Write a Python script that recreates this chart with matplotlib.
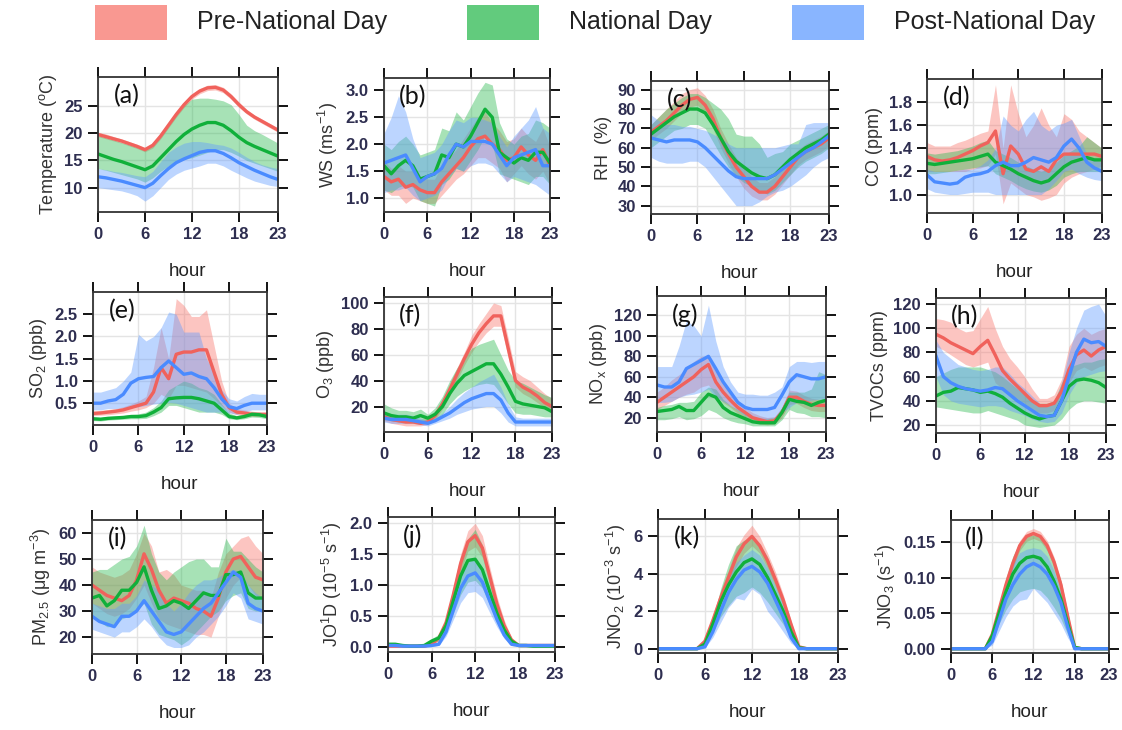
import matplotlib
matplotlib.use("Agg")
import matplotlib.pyplot as plt
from matplotlib.patches import Rectangle

plt.rcParams['font.family'] = ['Liberation Sans', 'DejaVu Sans']
plt.rcParams['mathtext.fontset'] = 'custom'
plt.rcParams['mathtext.rm'] = 'Liberation Sans'
plt.rcParams['mathtext.it'] = 'Liberation Sans:italic'

hours = list(range(24))
periods = ["Pre-National Day", "National Day", "Post-National Day"]
line_colors = ["#F0625C", "#10B03A", "#4A8BFF"]
band_colors = ["#F8766D", "#2DBA52", "#619CFF"]

# each block: [pre, national, post]
temp_mean = [[19.8,19.4,19.0,18.6,18.1,17.6,17.0,17.8,19.5,21.5,23.5,25.3,26.8,27.8,28.4,28.5,28.0,26.8,25.3,24.0,23.0,22.2,21.4,20.6],
             [16.2,15.7,15.2,14.8,14.3,13.8,13.3,14.0,15.5,17.0,18.5,19.8,20.8,21.5,22.0,22.0,21.5,20.5,19.3,18.3,17.6,17.0,16.4,15.8],
             [12.0,11.8,11.5,11.2,10.8,10.4,10.0,10.8,12.2,13.5,14.6,15.3,15.9,16.5,16.8,16.8,16.3,15.5,14.6,13.9,13.2,12.6,12.0,11.5]]
temp_lo = [[19.4,19.0,18.6,18.2,17.7,17.2,16.6,17.3,19.0,21.0,23.0,24.8,26.3,27.3,27.9,28.0,27.5,26.3,24.8,23.6,22.6,21.8,21.0,20.2],
           [13.5,13.2,12.8,12.4,12.0,11.6,11.0,11.8,13.0,14.0,14.8,15.2,15.5,16.0,16.5,17.0,17.0,16.5,15.8,15.0,14.5,14.0,13.5,13.0],
           [10.0,9.8,9.6,9.4,9.0,8.5,7.5,8.5,10.0,11.5,12.5,13.2,13.6,14.0,14.5,14.5,14.0,13.2,12.5,11.8,11.2,10.8,10.4,10.2]]
temp_hi = [[20.2,19.9,19.4,19.0,18.5,18.0,17.4,18.3,20.0,22.0,24.0,25.8,27.3,28.3,28.9,29.0,28.5,27.3,25.8,24.4,23.4,22.6,21.8,21.0],
           [19.6,19.2,18.8,18.3,17.9,17.4,17.0,17.8,19.5,21.5,23.5,25.2,26.3,26.5,26.5,26.3,26.0,25.3,23.5,21.5,20.5,19.8,19.0,18.2],
           [13.5,13.3,13.0,12.8,12.5,12.2,12.0,13.0,14.8,16.5,17.5,18.2,18.5,18.5,18.3,18.0,17.8,17.3,16.5,15.6,14.8,14.2,13.8,13.5]]

ws_mean = [[1.40,1.30,1.35,1.20,1.25,1.15,1.10,1.10,1.30,1.45,1.60,1.75,1.95,2.10,2.15,2.00,1.90,1.70,1.75,1.95,1.80,1.70,1.90,1.60],
           [1.60,1.45,1.60,1.70,1.60,1.35,1.40,1.45,1.80,1.75,2.00,1.95,2.15,2.40,2.65,2.50,1.85,1.75,1.65,1.75,1.70,1.85,1.85,1.65],
           [1.65,1.70,1.75,1.80,1.55,1.30,1.40,1.45,1.55,1.80,2.00,1.95,2.05,2.05,2.05,2.00,1.80,1.60,1.75,1.80,1.85,1.90,1.60,1.60]]
ws_lo = [[1.15,1.05,1.05,0.90,1.00,0.95,0.90,0.90,1.05,1.20,1.35,1.45,1.60,1.75,1.75,1.65,1.55,1.30,1.45,1.60,1.45,1.35,1.50,1.25],
         [1.15,1.10,1.20,1.25,1.20,0.95,0.90,0.85,1.25,1.35,1.55,1.50,1.70,1.90,2.15,2.00,1.45,1.40,1.35,1.30,1.25,1.40,1.40,1.25],
         [1.10,1.15,1.15,1.20,1.05,0.95,1.00,1.05,1.15,1.40,1.55,1.50,1.60,1.65,1.65,1.60,1.45,1.30,1.40,1.35,1.30,1.25,1.15,1.05]]
ws_hi = [[1.70,1.55,1.60,1.50,1.50,1.40,1.35,1.35,1.60,1.75,1.90,2.10,2.30,2.50,2.60,2.40,2.25,2.05,2.10,2.30,2.15,2.05,2.30,1.95],
         [2.00,1.90,2.05,2.15,2.00,1.80,1.85,1.90,2.30,2.25,2.60,2.45,2.70,2.95,3.15,3.10,2.40,2.10,2.00,2.15,2.20,2.45,2.40,2.30],
         [2.20,2.50,2.90,2.60,2.10,1.75,1.80,1.85,2.00,2.25,2.45,2.40,2.50,2.50,2.45,2.40,2.15,1.95,2.15,2.30,2.45,2.70,2.30,2.20]]

rh_mean = [[68,71,74,78,82,85,86,82,75,65,57,50,45,40,37,37,40,45,50,55,58,60,62,65],
           [67,70,73,76,78,80,80,78,72,65,58,53,50,47,45,44,46,50,54,57,60,62,64,67],
           [65,64,63,64,64,64,63,60,56,52,48,45,44,44,44,44,46,49,52,55,58,60,63,66]]
rh_lo = [[64,67,70,74,78,81,82,78,70,60,52,45,39,35,33,33,36,41,46,51,54,56,58,61],
         [60,63,66,69,70,72,72,70,63,56,50,45,42,40,38,36,38,42,46,50,53,55,57,60],
         [55,53,52,52,52,53,53,50,45,40,35,30,30,30,32,35,37,38,40,43,46,50,53,55]]
rh_hi = [[72,76,80,84,88,90,91,87,80,70,62,55,50,45,42,42,45,50,55,59,62,64,66,69],
         [72,76,80,83,86,88,88,86,83,80,75,67,66,66,62,55,57,58,62,64,66,68,70,72],
         [77,74,72,72,71,71,70,69,67,65,62,60,60,60,60,60,60,61,62,62,72,73,73,73]]

co_mean = [[1.33,1.30,1.29,1.30,1.32,1.35,1.38,1.42,1.45,1.55,1.18,1.42,1.35,1.22,1.20,1.24,1.20,1.30,1.35,1.35,1.35,1.35,1.35,1.33],
           [1.27,1.26,1.27,1.28,1.29,1.30,1.31,1.33,1.35,1.28,1.25,1.22,1.18,1.15,1.12,1.10,1.12,1.18,1.24,1.28,1.30,1.32,1.30,1.30],
           [1.17,1.11,1.10,1.09,1.10,1.15,1.17,1.18,1.20,1.25,1.28,1.25,1.25,1.28,1.32,1.30,1.28,1.32,1.42,1.48,1.40,1.28,1.23,1.20]]
co_lo = [[1.20,1.20,1.20,1.20,1.20,1.20,1.22,1.23,1.25,1.35,0.92,1.10,1.05,1.00,0.98,0.95,0.97,1.00,1.10,1.15,1.18,1.20,1.22,1.25],
         [1.18,1.18,1.19,1.20,1.21,1.22,1.23,1.24,1.25,1.18,1.15,1.12,1.08,1.05,1.03,1.02,1.04,1.08,1.15,1.18,1.20,1.20,1.20,1.20],
         [1.05,1.02,1.01,1.00,1.00,1.01,1.02,1.02,1.02,1.00,1.00,1.00,1.00,1.00,1.00,1.00,1.05,1.12,1.20,1.22,1.18,1.15,1.13,1.12]]
co_hi = [[1.45,1.42,1.42,1.42,1.45,1.47,1.50,1.53,1.55,1.95,1.40,1.95,1.70,1.50,1.60,1.75,1.60,1.50,1.70,1.65,1.55,1.50,1.45,1.40],
         [1.36,1.35,1.36,1.37,1.38,1.40,1.42,1.45,1.47,1.38,1.35,1.32,1.28,1.25,1.22,1.20,1.22,1.28,1.34,1.38,1.42,1.50,1.45,1.40],
         [1.22,1.20,1.20,1.20,1.21,1.22,1.22,1.25,1.30,1.40,1.68,1.60,1.55,1.65,1.72,1.60,1.55,1.60,1.62,1.65,1.50,1.35,1.30,1.28]]

so2_mean = [[0.27,0.28,0.30,0.32,0.35,0.40,0.45,0.50,0.75,1.30,1.05,1.60,1.65,1.65,1.70,1.70,1.20,0.70,0.40,0.30,0.28,0.25,0.25,0.25],
            [0.15,0.14,0.16,0.17,0.18,0.20,0.20,0.22,0.30,0.40,0.60,0.62,0.63,0.63,0.60,0.55,0.50,0.35,0.20,0.17,0.20,0.25,0.24,0.20],
            [0.50,0.50,0.55,0.58,0.70,0.95,1.05,1.08,1.10,1.30,1.45,1.30,1.15,1.18,1.10,1.05,0.85,0.60,0.42,0.38,0.45,0.50,0.50,0.50]]
so2_lo = [[0.22,0.23,0.24,0.26,0.28,0.32,0.35,0.40,0.50,0.70,0.60,0.90,0.90,0.85,0.80,0.75,0.60,0.45,0.30,0.24,0.22,0.20,0.20,0.20],
          [0.11,0.10,0.12,0.13,0.14,0.15,0.15,0.16,0.22,0.30,0.45,0.45,0.40,0.35,0.30,0.30,0.30,0.25,0.15,0.13,0.15,0.19,0.18,0.15],
          [0.35,0.35,0.38,0.38,0.40,0.40,0.42,0.45,0.48,0.50,0.52,0.50,0.45,0.40,0.35,0.30,0.30,0.30,0.28,0.25,0.30,0.35,0.35,0.35]]
so2_hi = [[0.32,0.34,0.36,0.38,0.42,0.48,0.55,0.65,1.30,2.20,1.50,2.85,2.70,2.45,2.45,2.60,1.80,1.00,0.50,0.38,0.35,0.32,0.30,0.30],
          [0.19,0.18,0.20,0.21,0.22,0.25,0.26,0.30,0.40,0.55,0.80,0.90,1.00,0.95,0.85,0.80,0.70,0.48,0.28,0.22,0.26,0.31,0.30,0.26],
          [0.75,0.75,0.80,0.85,1.00,1.20,2.05,1.90,2.00,2.20,2.55,2.50,2.10,2.10,2.10,1.50,1.20,0.80,0.60,0.55,0.65,0.72,0.70,0.70]]

o3_mean = [[12,10,9,8,8,7,8,13,22,33,45,57,68,77,84,90,90,65,40,35,32,28,23,20],
           [15,13,12,12,11,13,11,14,20,30,38,44,47,50,53,53,45,35,24,22,21,20,19,16],
           [11,10,10,10,9,8,7,9,12,15,19,23,26,28,30,30,25,15,8,8,8,8,8,8]]
o3_lo = [[9,7,6,5,5,5,6,10,18,28,40,52,62,70,77,82,82,58,35,30,27,23,19,16],
         [10,9,8,8,8,9,8,10,14,22,28,32,35,37,38,37,30,22,15,14,14,13,12,12],
         [8,7,7,7,7,6,5,7,9,11,14,16,18,19,20,20,15,8,5,5,5,5,5,5]]
o3_hi = [[15,13,12,11,11,10,11,16,26,38,50,62,75,84,92,100,98,73,47,43,40,35,30,26],
         [22,19,17,17,16,18,14,19,28,40,50,58,65,68,70,72,60,48,40,38,35,32,29,27],
         [15,14,14,14,13,11,9,11,15,20,26,31,35,39,42,45,35,22,12,11,11,11,11,11]]

nox_mean = [[35,40,45,50,55,60,67,72,55,45,37,30,25,20,18,16,17,25,40,40,36,33,32,32],
            [26,27,28,31,27,27,35,43,40,30,25,22,19,16,15,15,15,25,38,36,35,32,35,37],
            [52,50,50,55,68,72,76,80,68,55,45,35,30,28,28,28,30,42,55,62,60,58,58,60]]
nox_lo = [[28,32,36,40,43,45,50,52,42,35,30,24,20,16,14,13,14,20,33,34,30,27,26,26],
          [18,18,19,21,18,19,22,28,25,20,17,15,14,12,12,12,12,18,28,25,24,21,21,20],
          [35,35,36,40,42,43,45,48,40,36,32,27,22,20,19,18,20,25,30,35,36,37,38,38]]
nox_hi = [[45,50,57,62,68,75,80,80,65,53,45,37,30,25,22,20,21,30,47,46,42,39,38,38],
          [30,32,33,35,35,36,45,50,48,38,32,28,25,21,19,19,20,30,45,45,45,48,65,62],
          [70,70,70,90,115,110,100,130,95,70,55,45,43,43,42,42,45,50,70,75,75,74,75,75]]

tvoc_mean = [[95,92,88,85,82,79,85,90,78,65,58,52,46,40,36,36,38,48,66,78,82,77,82,85],
             [44,47,48,51,50,49,47,48,46,43,38,34,30,27,25,27,28,40,52,57,58,57,55,51],
             [77,60,55,52,50,49,48,49,51,50,45,40,36,32,28,27,28,40,60,80,91,88,89,85]]
tvoc_lo = [[85,82,78,74,70,68,70,72,55,50,45,42,38,33,30,30,32,40,55,65,68,65,68,70],
           [35,34,33,32,31,30,30,32,30,28,26,24,20,19,18,19,20,25,33,38,40,40,39,38],
           [60,45,40,38,37,36,35,36,36,35,32,30,28,25,23,22,23,30,45,55,60,62,64,65]]
tvoc_hi = [[108,107,105,100,97,98,108,118,100,85,75,68,60,50,42,42,45,58,85,95,100,95,98,100],
           [60,63,66,68,68,68,68,66,64,60,55,50,45,40,38,38,40,55,68,70,72,72,74,75],
           [90,80,75,70,68,66,65,66,68,68,62,55,50,44,38,35,38,55,80,100,115,118,120,110]]

pm_mean = [[40,38,36,35,34,36,42,52,46,38,33,35,34,33,31,30,28,35,45,50,51,47,43,42],
           [35,36,32,34,38,38,41,47,38,31,32,34,33,31,34,37,36,36,44,44,45,37,35,35],
           [28,26,25,24,28,28,30,34,30,26,22,21,22,25,28,31,33,37,41,45,43,33,31,30]]
pm_lo = [[33,31,29,28,29,31,35,40,33,27,25,24,23,22,21,21,20,28,35,40,43,40,36,35],
         [28,26,24,24,27,28,30,33,25,21,20,19,17,19,22,25,28,30,34,36,37,31,30,30],
         [23,22,21,20,22,22,24,27,24,20,17,16,16,17,20,22,25,28,32,37,35,27,26,25]]
pm_hi = [[47,45,44,43,44,46,52,60,55,45,46,44,40,39,38,38,35,45,52,55,58,59,55,52],
         [45,46,46,48,50,51,55,63,52,45,42,45,47,49,50,50,47,47,58,53,53,50,47,45],
         [33,32,31,31,33,33,36,42,40,38,33,30,33,37,40,42,42,43,45,46,45,40,37,35]]

jo1d_mean = [[0.02,0.02,0.02,0.02,0.02,0.02,0.05,0.15,0.40,0.85,1.35,1.70,1.80,1.60,1.15,0.70,0.35,0.12,0.03,0.03,0.03,0.03,0.03,0.03],
             [0.05,0.05,0.03,0.02,0.02,0.03,0.10,0.15,0.35,0.75,1.15,1.40,1.42,1.25,0.90,0.55,0.28,0.10,0.03,0.03,0.02,0.02,0.02,0.02],
             [0.03,0.03,0.02,0.02,0.02,0.02,0.03,0.05,0.25,0.60,0.95,1.15,1.20,1.05,0.75,0.45,0.20,0.05,0.03,0.03,0.03,0.03,0.03,0.03]]
jo1d_lo = [[0.00,0.00,0.00,0.00,0.00,0.00,0.03,0.10,0.32,0.72,1.20,1.55,1.62,1.45,1.02,0.60,0.28,0.08,0.01,0.01,0.01,0.01,0.01,0.01],
           [0.03,0.03,0.01,0.00,0.00,0.01,0.07,0.10,0.25,0.55,0.85,1.05,1.08,0.95,0.68,0.40,0.20,0.06,0.01,0.01,0.00,0.00,0.00,0.00],
           [0.01,0.01,0.00,0.00,0.00,0.00,0.01,0.03,0.18,0.45,0.72,0.88,0.90,0.80,0.56,0.33,0.14,0.03,0.01,0.01,0.01,0.01,0.01,0.01]]
jo1d_hi = [[0.04,0.04,0.04,0.04,0.04,0.04,0.08,0.20,0.48,0.98,1.50,1.88,2.00,1.80,1.30,0.82,0.44,0.16,0.05,0.05,0.05,0.05,0.05,0.05],
           [0.07,0.07,0.05,0.04,0.04,0.05,0.14,0.21,0.45,0.95,1.45,1.75,1.90,1.65,1.15,0.72,0.38,0.14,0.05,0.05,0.04,0.04,0.04,0.04],
           [0.05,0.05,0.04,0.04,0.04,0.04,0.05,0.08,0.32,0.75,1.15,1.38,1.42,1.25,0.92,0.57,0.27,0.08,0.05,0.05,0.05,0.05,0.05,0.05]]

jno2_mean = [[0,0,0,0,0,0,0.40,1.50,2.70,3.80,4.90,5.60,6.00,5.50,4.70,3.70,2.60,1.30,0.10,0,0,0,0,0],
             [0,0,0,0,0,0,0.25,1.30,2.50,3.40,4.10,4.60,4.80,4.50,3.80,2.90,2.00,0.90,0.05,0,0,0,0,0],
             [0,0,0,0,0,0,0.10,0.90,2.00,3.00,3.70,4.20,4.40,4.10,3.50,2.60,1.70,0.60,0.00,0,0,0,0,0]]
jno2_lo = [[0,0,0,0,0,0,0.30,1.20,2.30,3.40,4.40,5.10,5.50,5.10,4.30,3.30,2.30,1.10,0.05,0,0,0,0,0],
           [0,0,0,0,0,0,0.15,0.90,1.70,2.30,2.80,3.00,3.30,3.00,2.50,1.90,1.30,0.50,0.00,0,0,0,0,0],
           [0,0,0,0,0,0,0.05,0.60,1.40,2.20,2.70,2.60,3.20,2.90,2.00,1.50,0.90,0.30,0.00,0,0,0,0,0]]
jno2_hi = [[0,0,0,0,0,0,0.50,1.80,3.10,4.20,5.40,6.10,6.60,6.00,5.10,4.10,2.90,1.50,0.15,0,0,0,0,0],
           [0,0,0,0,0,0,0.35,1.60,3.20,4.50,5.50,5.80,5.90,5.60,4.90,3.80,2.60,1.20,0.10,0,0,0,0,0],
           [0,0,0,0,0,0,0.15,1.20,2.60,3.80,4.60,5.00,5.30,5.00,4.30,3.30,2.30,0.90,0.05,0,0,0,0,0]]

jno3_mean = [[0,0,0,0,0,0,0.020,0.055,0.090,0.120,0.145,0.158,0.162,0.158,0.145,0.122,0.090,0.045,0.002,0,0,0,0,0],
             [0,0,0,0,0,0,0.018,0.050,0.080,0.105,0.120,0.128,0.130,0.127,0.115,0.095,0.070,0.035,0.002,0,0,0,0,0],
             [0,0,0,0,0,0,0.010,0.040,0.070,0.090,0.105,0.115,0.120,0.115,0.105,0.088,0.065,0.030,0.000,0,0,0,0,0]]
jno3_lo = [[0,0,0,0,0,0,0.014,0.048,0.083,0.113,0.138,0.151,0.155,0.151,0.138,0.115,0.083,0.039,0.000,0,0,0,0,0],
           [0,0,0,0,0,0,0.012,0.035,0.055,0.070,0.080,0.083,0.085,0.082,0.072,0.058,0.042,0.020,0.000,0,0,0,0,0],
           [0,0,0,0,0,0,0.005,0.025,0.045,0.060,0.068,0.070,0.085,0.075,0.065,0.050,0.035,0.015,0.000,0,0,0,0,0]]
jno3_hi = [[0,0,0,0,0,0,0.027,0.062,0.097,0.127,0.152,0.165,0.169,0.165,0.152,0.129,0.097,0.052,0.004,0,0,0,0,0],
           [0,0,0,0,0,0,0.022,0.060,0.100,0.130,0.150,0.158,0.160,0.158,0.148,0.125,0.095,0.050,0.004,0,0,0,0,0],
           [0,0,0,0,0,0,0.015,0.050,0.090,0.120,0.135,0.140,0.142,0.140,0.130,0.110,0.080,0.040,0.002,0,0,0,0,0]]

ylabels = ["Temperature ($\\mathregular{^oC}$)", "WS (ms$\\mathregular{^{-1}}$)", "RH  (%)", "CO (ppm)",
           "SO$\\mathregular{_2}$ (ppb)", "O$\\mathregular{_3}$ (ppb)", "NO$\\mathregular{_x}$ (ppb)", "TVOCs (ppm)",
           "PM$\\mathregular{_{2.5}}$ ($\\mathregular{\\mu}$g m$\\mathregular{^{-3}}$)",
           "JO$\\mathregular{^1}$D (10$\\mathregular{^{-5}}$ s$\\mathregular{^{-1}}$)",
           "JNO$\\mathregular{_2}$ (10$\\mathregular{^{-3}}$ s$\\mathregular{^{-1}}$)",
           "JNO$\\mathregular{_3}$ (s$\\mathregular{^{-1}}$)"]
tags = ["(a)", "(b)", "(c)", "(d)", "(e)", "(f)", "(g)", "(h)", "(i)", "(j)", "(k)", "(l)"]
ytick_labels = [["10", "15", "20", "25"], ["1.0", "1.5", "2.0", "2.5", "3.0"],
                ["30", "40", "50", "60", "70", "80", "90"], ["1.0", "1.2", "1.4", "1.6", "1.8"],
                ["0.5", "1.0", "1.5", "2.0", "2.5"], ["20", "40", "60", "80", "100"],
                ["20", "40", "60", "80", "100", "120"], ["20", "40", "60", "80", "100", "120"],
                ["20", "30", "40", "50", "60"], ["0.0", "0.5", "1.0", "1.5", "2.0"],
                ["0", "2", "4", "6"], ["0.00", "0.05", "0.10", "0.15"]]
ylims = [(5.5, 30.4), (0.74, 3.23), (25.7, 94.5), (0.84, 2.0),
         (0.01, 3.0), (0.3, 104.6), (6, 139), (13.4, 125),
         (13.5, 65), (-0.075, 2.1), (-0.23, 6.93), (-0.006, 0.181)]
xticks = [0, 6, 12, 18, 23]

# axes boxes in pixels: left, top, right, bottom
boxes = [(98, 77, 278, 212), (384, 78, 550, 212), (651, 81, 829, 214), (927, 79, 1102, 213),
         (93, 292, 267, 425), (384, 297, 552, 432), (657, 296, 826, 432), (936, 298, 1106, 433),
         (92, 520, 263, 654), (388, 517, 555, 652), (658, 519, 838, 653), (951, 520, 1109, 653)]

data = [(temp_mean, temp_lo, temp_hi), (ws_mean, ws_lo, ws_hi), (rh_mean, rh_lo, rh_hi),
        (co_mean, co_lo, co_hi), (so2_mean, so2_lo, so2_hi), (o3_mean, o3_lo, o3_hi),
        (nox_mean, nox_lo, nox_hi), (tvoc_mean, tvoc_lo, tvoc_hi), (pm_mean, pm_lo, pm_hi),
        (jo1d_mean, jo1d_lo, jo1d_hi), (jno2_mean, jno2_lo, jno2_hi), (jno3_mean, jno3_lo, jno3_hi)]

W, H = 1122, 730
fig = plt.figure(figsize=(W / 100, H / 100), dpi=100)
tick_col = "#2E2E50"

for k, (means, los, his) in enumerate(data):
    l, t, r, b = boxes[k]
    ax = fig.add_axes([l / W, 1 - b / H, (r - l) / W, (b - t) / H])
    for g in range(3):
        ax.fill_between(hours, los[g], his[g], color=band_colors[g], alpha=0.42, lw=0)
        ax.plot(hours, means[g], color=line_colors[g], lw=2.4)
    ax.set_xlim(0, 23)
    ax.set_ylim(*ylims[k])
    ax.set_xticks(xticks)
    ax.set_xticklabels([str(x) for x in xticks])
    ax.set_yticks([float(s) for s in ytick_labels[k]])
    ax.set_yticklabels(ytick_labels[k])
    ax.grid(color="#E4E4E4", lw=1)
    ax.set_axisbelow(True)
    ax.tick_params(direction="out", top=True, right=True, length=7, width=1.3,
                   labelsize=12, labelcolor=tick_col, pad=4)
    for lab in ax.get_xticklabels() + ax.get_yticklabels():
        lab.set_fontweight("bold")
        lab.set_family(["Liberation Sans Narrow", "Liberation Sans", "DejaVu Sans"])
    for s in ax.spines.values():
        s.set_linewidth(1.3)
        s.set_color("#333333")
    ax.set_xlabel("hour", fontsize=13.5, color="#222222", labelpad=15)
    ax.set_ylabel(ylabels[k], fontsize=13, color="#333333", labelpad=4)
    ax.text(0.09, 0.86, tags[k], transform=ax.transAxes, fontsize=18, va="center",
            family=["Lato", "DejaVu Sans"], color="#111111")

# legend strip
leg_x = [95, 467, 792]
for g in range(3):
    x0 = leg_x[g]
    fig.patches.append(Rectangle((x0 / W, 1 - 40 / H), 72 / W, 35 / H, transform=fig.transFigure,
                                 facecolor=band_colors[g], alpha=0.75, lw=0))
    fig.text((x0 + 102) / W, 1 - 22 / H, periods[g], fontsize=18, va="center", color="#222222")

fig.savefig("out.png", dpi=100)
